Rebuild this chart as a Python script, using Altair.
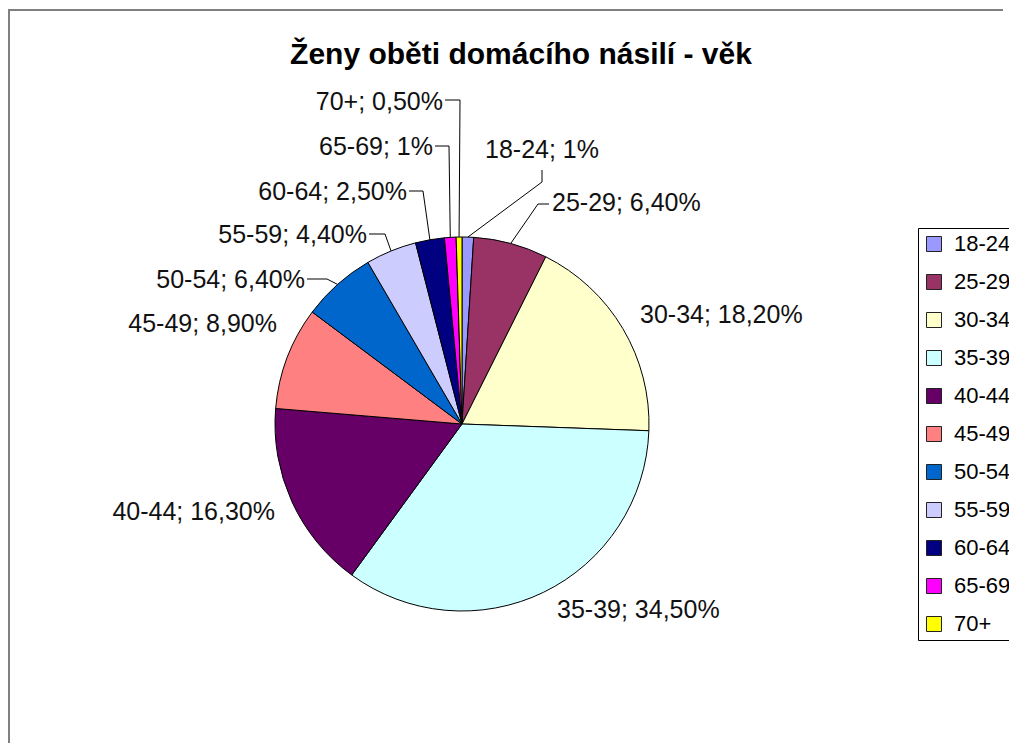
import math
import altair as alt
import pandas as pd

# ---------------- data ----------------
title_text = "Ženy oběti domácího násilí - věk"
categories = ["18-24", "25-29", "30-34", "35-39", "40-44", "45-49",
              "50-54", "55-59", "60-64", "65-69", "70+"]
values = [1.0, 6.4, 18.2, 34.5, 16.3, 8.9, 6.4, 4.4, 2.5, 1.0, 0.5]
pct_text = ["1%", "6,40%", "18,20%", "34,50%", "16,30%", "8,90%",
            "6,40%", "4,40%", "2,50%", "1%", "0,50%"]
colors = ["#9999FF", "#993366", "#FFFFCC", "#CCFFFF", "#660066", "#FF8080",
          "#0066CC", "#CCCCFF", "#000080", "#FF00FF", "#FFFF00"]

# ---------------- layout (pixels, plot coordinates) ----------------
W, H = 1001, 735
CX, CY, R = 454, 416, 187
FONT = "Liberation Sans"

# label anchor, alignment, and leader (text-side end, elbow)
label_layout = {
    "18-24": dict(tx=534, ty=142, align="center", p0=(534, 162), p1=(534, 174)),
    "25-29": dict(tx=544, ty=195, align="left", p0=(541, 196), p1=(530, 196)),
    "30-34": dict(tx=632, ty=307, align="left"),
    "35-39": dict(tx=549, ty=602, align="left"),
    "40-44": dict(tx=267, ty=504, align="right"),
    "45-49": dict(tx=269, ty=316, align="right"),
    "50-54": dict(tx=297, ty=272, align="right", p0=(299, 271), p1=(319, 271)),
    "55-59": dict(tx=359, ty=227, align="right", p0=(361, 226), p1=(377, 226)),
    "60-64": dict(tx=399, ty=184, align="right", p0=(401, 183), p1=(415, 183)),
    "65-69": dict(tx=425, ty=139, align="right", p0=(427, 138), p1=(441, 138)),
    "70+":   dict(tx=435, ty=94,  align="right", p0=(437, 92),  p1=(452, 92)),
}

df = pd.DataFrame({
    "cat": categories,
    "value": values,
    "idx": list(range(len(categories))),
})
df["label"] = [f"{c}; {p}" for c, p in zip(categories, pct_text)]

# mid angles of slices (clockwise from 12 o'clock), derived from the data
total = sum(values)
cum = 0.0
mids = []
for v in values:
    mids.append((cum + v / 2) / total * 2 * math.pi)
    cum += v

lab_rows, seg_rows = [], []
for c, lab, a in zip(categories, df["label"], mids):
    L = label_layout[c]
    lab_rows.append(dict(cat=c, label=lab, tx=L["tx"], ty=L["ty"], align=L["align"]))
    if "p0" in L:
        ex = CX + R * math.sin(a)
        ey = CY - R * math.cos(a)
        (x0, y0), (x1, y1) = L["p0"], L["p1"]
        seg_rows.append(dict(x=x0, y=y0, x2=x1, y2=y1))
        seg_rows.append(dict(x=x1, y=y1, x2=ex, y2=ey))
labels_df = pd.DataFrame(lab_rows)
segs_df = pd.DataFrame(seg_rows)

# ---------------- chart ----------------
pie = alt.Chart(df).mark_arc(radius=R, stroke="#000000", strokeWidth=1).encode(
    theta=alt.Theta("value:Q", stack=True),
    color=alt.Color(
        "cat:N",
        scale=alt.Scale(domain=categories, range=colors),
        sort=categories,
        legend=alt.Legend(
            orient="none", legendX=910, legendY=220, title=None,
            symbolType="square", symbolSize=225, symbolStrokeColor="#222222",
            symbolStrokeWidth=1, symbolOpacity=1,
            labelFontSize=22, labelFont=FONT, labelColor="#000000",
            labelOffset=9, labelLimit=300,
            strokeColor="#000000", fillColor="#ffffff",
            padding=5, rowPadding=16,
        ),
    ),
    order=alt.Order("idx:Q"),
    x=alt.value(CX),
    y=alt.value(CY),
)

leaders = alt.Chart(segs_df).mark_rule(color="#000000", strokeWidth=1).encode(
    x=alt.X("x:Q", scale=None),
    y=alt.Y("y:Q", scale=None),
    x2=alt.X2("x2:Q"),
    y2=alt.Y2("y2:Q"),
)

def text_layer(al):
    return alt.Chart(labels_df).transform_filter(
        alt.datum.align == al
    ).mark_text(
        align=al, baseline="middle", font=FONT, fontSize=25, color="#111111"
    ).encode(
        x=alt.X("tx:Q", scale=None),
        y=alt.Y("ty:Q", scale=None),
        text="label:N",
    )

title = alt.Chart(pd.DataFrame({"t": [title_text]})).mark_text(
    font=FONT, fontSize=30, fontWeight="bold", color="#000000",
    align="center", baseline="middle",
).encode(x=alt.value(513), y=alt.value(47), text="t:N")

one = pd.DataFrame({"k": [0]})
border_top = alt.Chart(one).mark_rule(color="#808080", strokeWidth=2).encode(
    x=alt.value(0), x2=alt.value(W - 6), y=alt.value(2), y2=alt.value(2)
)
border_left = alt.Chart(one).mark_rule(color="#808080", strokeWidth=2).encode(
    x=alt.value(1), x2=alt.value(1), y=alt.value(2), y2=alt.value(H)
)

chart = alt.layer(
    border_top, border_left, pie, leaders,
    text_layer("left"), text_layer("right"), text_layer("center"), title,
).properties(
    width=W, height=H, padding=0,
    autosize=alt.AutoSizeParams(type="none"),
    background="#ffffff",
).configure_view(stroke=None)

chart.save("out.html", embed_options={"renderer": "svg", "actions": False})
